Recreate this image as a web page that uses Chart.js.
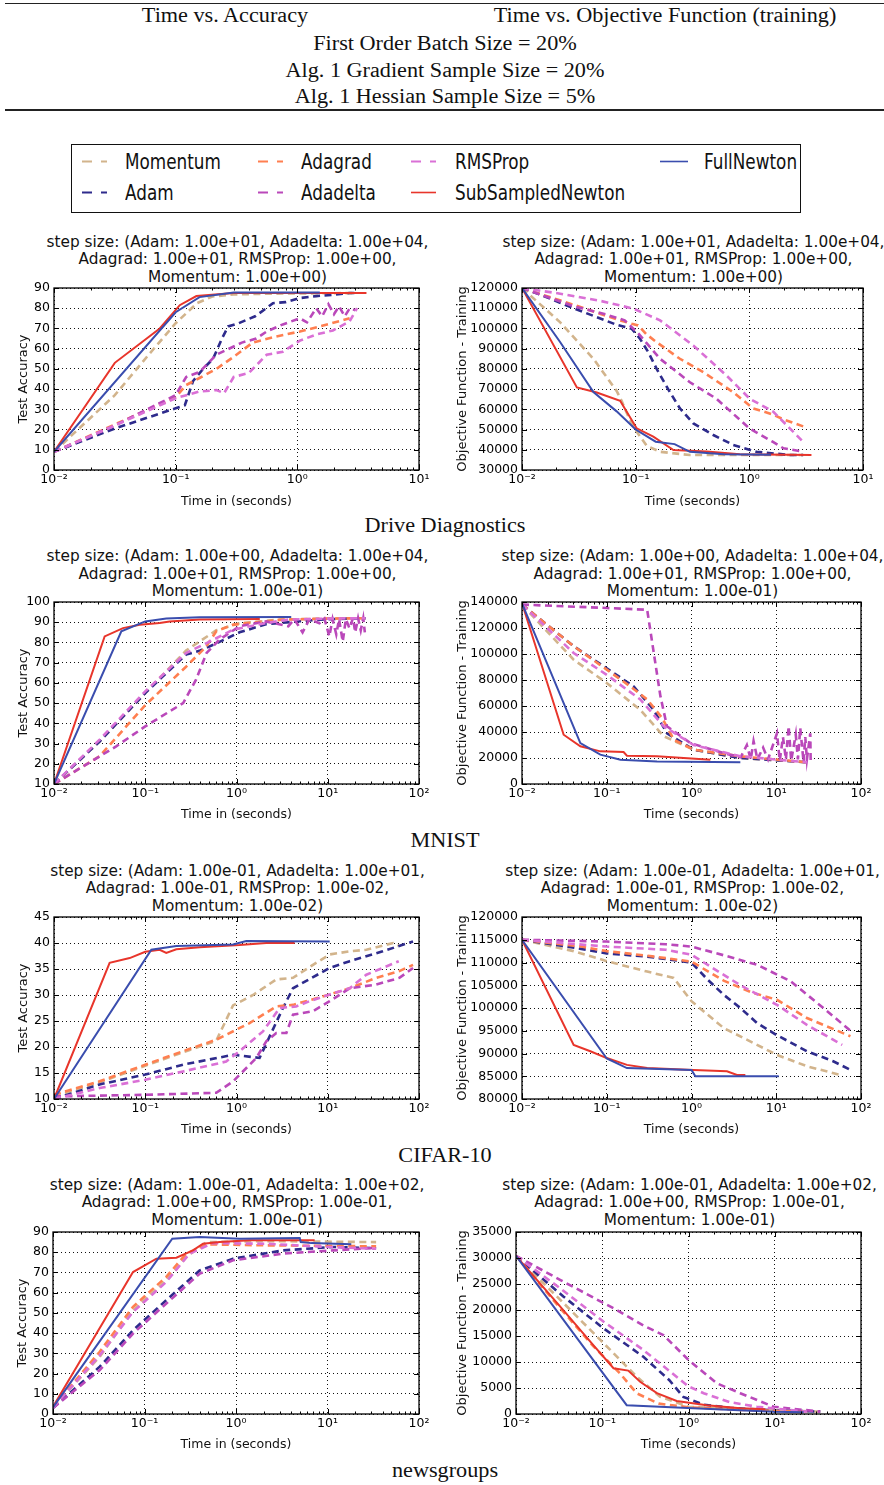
<!DOCTYPE html>
<html><head><meta charset="utf-8">
<script src="https://cdn.jsdelivr.net/npm/chart.js@4.4.1/dist/chart.umd.min.js"></script>
<style>
html,body{margin:0;padding:0;background:#fff;}
body{width:884px;height:1485px;position:relative;overflow:hidden;}
.abs{position:absolute;}
.serif{font-family:'Liberation Serif','Times New Roman',serif;font-size:20px;line-height:20px;color:#111;white-space:nowrap;text-align:center;width:600px;transform:scaleX(1.11);transform-origin:center;}
.rule{position:absolute;left:5px;width:879px;height:1.4px;background:#222;}
.leg{position:absolute;font-family:'DejaVu Sans',sans-serif;font-size:22px;line-height:22px;color:#111;white-space:nowrap;transform:scaleX(0.765);transform-origin:left center;}
.ptitle{position:absolute;width:500px;text-align:center;font-family:'DejaVu Sans',sans-serif;font-size:15.3px;line-height:17.5px;color:#111;white-space:nowrap;}
</style></head>
<body>
<div class="rule" style="top:2.6px"></div>
<div class="rule" style="top:109.4px"></div>
<div class="abs serif" style="left:-75px;top:4.9px">Time vs. Accuracy</div>
<div class="abs serif" style="left:365px;top:4.9px">Time vs. Objective Function (training)</div>
<div class="abs serif" style="left:145px;top:32.9px">First Order Batch Size = 20%</div>
<div class="abs serif" style="left:145px;top:59.9px">Alg. 1 Gradient Sample Size = 20%</div>
<div class="abs serif" style="left:145px;top:85.9px">Alg. 1 Hessian Sample Size = 5%</div>

<div class="abs" style="left:71px;top:144px;width:730px;height:69px;border:1.5px solid #111;box-sizing:border-box;"></div>
<svg class="abs" style="left:0;top:0" width="884" height="230">
<line x1="82" y1="161.5" x2="107" y2="161.5" stroke="#D2B48C" stroke-width="2.2" stroke-dasharray="10 9"/>
<line x1="82" y1="192.5" x2="107" y2="192.5" stroke="#2E2B8C" stroke-width="2.2" stroke-dasharray="10 9"/>
<line x1="258" y1="161.5" x2="283" y2="161.5" stroke="#FF7F50" stroke-width="2.2" stroke-dasharray="10 9"/>
<line x1="258" y1="192.5" x2="283" y2="192.5" stroke="#BA48BA" stroke-width="2.2" stroke-dasharray="10 9"/>
<line x1="411" y1="161.5" x2="436" y2="161.5" stroke="#DA70D6" stroke-width="2.2" stroke-dasharray="10 9"/>
<line x1="411" y1="192.5" x2="436" y2="192.5" stroke="#E8352B" stroke-width="1.6"/>
<line x1="660" y1="161.5" x2="688" y2="161.5" stroke="#3A4DAE" stroke-width="1.6"/>
</svg>
<div class="leg" style="left:125px;top:150.7px">Momentum</div>
<div class="leg" style="left:125px;top:182.1px">Adam</div>
<div class="leg" style="left:300.5px;top:150.7px">Adagrad</div>
<div class="leg" style="left:300.5px;top:182.1px">Adadelta</div>
<div class="leg" style="left:455px;top:150.7px">RMSProp</div>
<div class="leg" style="left:455px;top:182.1px">SubSampledNewton</div>
<div class="leg" style="left:704px;top:150.7px">FullNewton</div>

<div class="abs serif" style="left:145px;top:514.9px">Drive Diagnostics</div>
<div class="abs serif" style="left:145px;top:829.9px">MNIST</div>
<div class="abs serif" style="left:145px;top:1144.9px">CIFAR-10</div>
<div class="abs serif" style="left:145px;top:1459.9px">newsgroups</div>

<script>
// ---------- series ----------
const SERIES_NAMES = ['Momentum','Adam','Adagrad','Adadelta','RMSProp','SubSampledNewton','FullNewton'];
const SERIES_COLORS = ['#D2B48C','#2E2B8C','#FF7F50','#BA48BA','#DA70D6','#E8352B','#3A4DAE'];

// ---------- tick labels ----------
const X_TICKS_3DEC = [0.01, 0.1, 1, 10];
const X_TICKS_4DEC = [0.01, 0.1, 1, 10, 100];

// ---------- titles ----------
const TITLE_DRIVE = ['step size: (Adam: 1.00e+01, Adadelta: 1.00e+04,','Adagrad: 1.00e+01, RMSProp: 1.00e+00,','Momentum: 1.00e+00)'];
const TITLE_MNIST = ['step size: (Adam: 1.00e+00, Adadelta: 1.00e+04,','Adagrad: 1.00e+01, RMSProp: 1.00e+00,','Momentum: 1.00e-01)'];
const TITLE_CIFAR = ['step size: (Adam: 1.00e-01, Adadelta: 1.00e+01,','Adagrad: 1.00e-01, RMSProp: 1.00e-02,','Momentum: 1.00e-02)'];
const TITLE_NEWS  = ['step size: (Adam: 1.00e-01, Adadelta: 1.00e+02,','Adagrad: 1.00e+00, RMSProp: 1.00e-01,','Momentum: 1.00e-01)'];

// ---------- Drive Diagnostics: accuracy ----------
const DRIVE_ACC_MOMENTUM = [[0.01,9],[0.0316,37],[0.06,57],[0.1,72.6],[0.15,82.5],[0.2,85.8],[0.3,86.8],[0.6,87.2],[1,87.3],[3,87.5]];
const DRIVE_ACC_ADAM = [[0.01,9],[0.0316,20.5],[0.1,30.5],[0.119,32],[0.139,44],[0.168,50],[0.203,55],[0.24,65],[0.27,71],[0.33,72.6],[0.45,76],[0.556,80],[0.63,82.5],[0.8,83],[1.05,85],[1.43,86],[1.96,86.6],[2.69,87.5],[3,87.5]];
const DRIVE_ACC_ADAGRAD = [[0.01,9],[0.1,36],[0.122,42],[0.157,45.5],[0.216,50],[0.3,56],[0.43,63],[0.67,66],[1.05,68.5],[1.53,71],[2.69,75]];
const DRIVE_ACC_ADADELTA = [[0.01,9],[0.0316,22],[0.1,37],[0.122,46],[0.157,48.5],[0.216,57],[0.35,63],[0.46,65],[0.56,68.5],[0.76,72],[1.05,75],[1.2,73],[1.43,80],[1.6,76],[1.8,82],[2.0,77],[2.2,81],[2.45,76],[2.7,80],[3.0,79]];
const DRIVE_ACC_RMSPROP = [[0.01,9],[0.0316,22],[0.1,35.5],[0.157,38.8],[0.216,39.5],[0.25,38],[0.3,46],[0.4,48],[0.56,57],[0.76,58.5],[1.05,64],[1.43,67],[1.96,69],[2.69,73.5],[3.1,80]];
const DRIVE_ACC_SSN = [[0.01,9],[0.0316,53],[0.074,70],[0.108,81.5],[0.148,86],[0.3,87.5],[1,87.5],[3.7,87.5]];
const DRIVE_ACC_FULL = [[0.01,9],[0.1,78],[0.157,85.5],[0.3,87.8],[1,87.8],[1.53,87.8]];

// ---------- Drive Diagnostics: objective ----------
const DRIVE_OBJ_MOMENTUM = [[0.01,120000],[0.0217,103000],[0.0425,85000],[0.0682,69000],[0.0755,64000],[0.09,54000],[0.102,49000],[0.125,42000],[0.164,39000],[0.3,37400],[3,37400]];
const DRIVE_OBJ_ADAM = [[0.01,120000],[0.0145,116700],[0.0284,110000],[0.0682,101800],[0.0925,99800],[0.109,95000],[0.129,88300],[0.153,80000],[0.2,68500],[0.245,60500],[0.322,53000],[0.482,47300],[0.722,42400],[1.156,39000],[2.27,37400],[2.97,37400]];
const DRIVE_OBJ_ADAGRAD = [[0.01,120000],[0.0284,111700],[0.0682,104500],[0.0925,102300],[0.105,101500],[0.125,97000],[0.153,93200],[0.245,85000],[0.394,78400],[0.72,68500],[1.08,60500],[1.6,57500],[2.0,55000],[3.0,51500]];
const DRIVE_OBJ_ADADELTA = [[0.01,120000],[0.0284,111000],[0.052,107300],[0.08,104000],[0.106,97400],[0.164,85000],[0.3,73400],[0.515,65200],[1.0,50600],[1.6,44000],[2.0,40700],[2.75,39400]];
const DRIVE_OBJ_RMSPROP = [[0.01,120000],[0.0217,117200],[0.05,113500],[0.0955,109800],[0.164,104000],[0.321,91600],[0.63,76700],[1.01,65200],[1.62,58900],[2.27,50600],[2.97,44000]];
const DRIVE_OBJ_SSN = [[0.01,120000],[0.0304,70800],[0.0455,68300],[0.073,64200],[0.102,50600],[0.143,46500],[0.215,39900],[0.421,39100],[0.826,37800],[3.52,37400]];
const DRIVE_OBJ_FULL = [[0.01,120000],[0.0217,93200],[0.0425,68500],[0.068,59000],[0.1,50000],[0.15,44000],[0.22,42800],[0.3,39000],[0.6,37800],[1.55,37500]];

// ---------- MNIST: accuracy ----------
const MNIST_ACC_MOMENTUM = [[0.01,10],[0.0316,31],[0.1,55],[0.28,76],[0.6,86],[1.08,89.5],[3,91.3],[10,91.8],[26,92]];
const MNIST_ACC_ADAM = [[0.01,10],[0.0316,31],[0.1,55],[0.28,74],[0.4,76],[0.6,79.5],[1.08,85],[2.1,89],[5,90.5],[10,91.5],[26,92]];
const MNIST_ACC_ADAGRAD = [[0.01,10],[0.0316,23.7],[0.1,49],[0.28,68],[0.467,78],[0.6,85.5],[0.92,88.8],[3.2,91.3],[10,91.8],[26,92]];
const MNIST_ACC_ADADELTA = [[0.01,10],[0.048,28.6],[0.1,38.5],[0.26,50],[0.36,61.6],[0.47,74.8],[0.65,81.4],[1.08,88],[2.1,90.4],[3.7,88],[4.3,91.5],[5.3,85],[6.3,91.5],[8.1,89.5],[9.2,91.8],[10.4,83],[11.3,91.5],[12.4,84],[13.3,91.5],[14.6,80.5],[15.8,91.5],[17.3,87],[18.9,92],[20,85],[21.5,92],[23,86],[24.5,92],[25.5,85]];
const MNIST_ACC_RMSPROP = [[0.01,10],[0.0316,31.9],[0.1,55.8],[0.28,74.8],[0.47,79.7],[0.92,86.3],[2.1,89.6],[3.7,91.3],[10,91.8],[26,92]];
const MNIST_ACC_SSN = [[0.01,10],[0.0359,83],[0.057,87.1],[0.0869,88.8],[0.144,89.6],[0.185,90.4],[0.395,91.3],[1.8,91.6]];
const MNIST_ACC_FULL = [[0.01,10],[0.0547,85.5],[0.1,90.4],[0.17,91.8],[0.395,92.4],[3.98,92.6]];

// ---------- MNIST: objective ----------
const MNIST_OBJ_MOMENTUM = [[0.01,138000],[0.0407,95600],[0.1,77700],[0.249,57000],[0.47,36700],[1.06,26400],[3.77,20000],[23,16700]];
const MNIST_OBJ_ADAM = [[0.01,138000],[0.0407,106000],[0.1,89000],[0.208,75000],[0.358,57000],[0.514,39000],[1.06,26400],[3.77,20000],[23,16700]];
const MNIST_OBJ_ADAGRAD = [[0.01,138000],[0.0407,106000],[0.1,88000],[0.19,75000],[0.3,65000],[0.45,50800],[0.62,34000],[1.06,26400],[3.77,21300],[23,16700]];
const MNIST_OBJ_ADADELTA = [[0.01,138000],[0.1,135400],[0.3,134000],[0.43,67400],[0.514,44400],[0.97,31500],[2.4,23800],[3.8,20500],[4.5,30000],[5,19000],[5.4,33000],[6,19000],[7,28000],[8,19000],[10.2,39000],[11,18000],[12,36000],[13,19000],[14,44400],[15,18000],[17,38000],[18,19000],[19.2,43000],[21,17000],[22,36000],[23,19000],[25.2,39000],[25.5,17000]];
const MNIST_OBJ_RMSPROP = [[0.01,138000],[0.0407,100800],[0.1,84000],[0.249,65000],[0.47,44400],[1.06,30000],[3.77,21300],[23,16700]];
const MNIST_OBJ_SSN = [[0.01,139000],[0.031,37900],[0.0488,29000],[0.084,25100],[0.158,24600],[0.173,21800],[0.392,21300],[1.67,18700]];
const MNIST_OBJ_FULL = [[0.01,139000],[0.0488,31500],[0.084,22600],[0.145,18700],[0.392,17400],[3.77,16700]];

// ---------- CIFAR-10: accuracy ----------
const CIFAR_ACC_MOMENTUM = [[0.01,10.5],[0.0316,13.2],[0.1,16.4],[0.26,19],[0.6,21.2],[0.916,28],[1.52,30],[2.73,33],[4.16,33.3],[6.89,35.8],[10.5,37.8],[17.4,38.4],[26.5,38.7],[52,40],[60,39.5]];
const CIFAR_ACC_ADAM = [[0.01,10],[0.0316,12.8],[0.1,14.7],[0.26,16.6],[0.92,18.5],[1.79,17.9],[3.23,27.5],[4.16,31.3],[10.5,35.2],[17.4,36.5],[40,38.4],[86,40.3]];
const CIFAR_ACC_ADAGRAD = [[0.01,10.8],[0.0316,13.4],[0.1,16.6],[0.26,19.2],[0.6,21.4],[1.39,24.6],[2.73,27.8],[4.16,28.1],[10.5,30.1],[17.4,31.3],[34,33.3],[61,34.6],[86,35.8]];
const CIFAR_ACC_ADADELTA = [[0.01,10.5],[0.1,10.8],[0.6,11.2],[0.92,13.4],[1.65,17.9],[2.12,21.1],[2.73,22.7],[3.52,22.7],[4.16,26.2],[6.89,26.9],[10.5,28.8],[17.4,31.3],[34,32],[61,33.3],[86,35.2]];
const CIFAR_ACC_RMSPROP = [[0.01,10],[0.0316,12.1],[0.1,13.7],[0.26,15.3],[0.77,17.2],[1.08,19.2],[1.95,23],[2.97,27.5],[4.5,27.8],[6.3,28.8],[10.5,30.1],[17.4,31.3],[26.5,33.9],[60,36.5]];
const CIFAR_ACC_SSN = [[0.01,10],[0.0407,36.2],[0.0675,37.1],[0.1,38.3],[0.144,38.7],[0.17,38.1],[0.219,38.8],[0.395,39.2],[1.08,39.6],[2.12,40],[4.34,40]];
const CIFAR_ACC_FULL = [[0.01,10],[0.1166,38.7],[0.219,39.4],[0.916,39.7],[1.28,40.4],[10.5,40.3]];

// ---------- CIFAR-10: objective ----------
const CIFAR_OBJ_MOMENTUM = [[0.01,115000],[0.0407,112500],[0.1,110300],[0.3,108000],[0.616,106600],[1.0,101500],[2.4,95600],[5.93,91900],[10.2,89700],[23,87200],[57,85300]];
const CIFAR_OBJ_ADAM = [[0.01,115000],[0.05,113000],[0.1,112000],[0.3,111300],[1.0,110000],[1.5,106500],[2.4,102900],[3.77,100000],[5.93,96700],[10,94100],[23,90500],[47,88300],[75,86400]];
const CIFAR_OBJ_ADAGRAD = [[0.01,115000],[0.05,113500],[0.1,112500],[0.3,111500],[1.0,110200],[2.4,106000],[5,103500],[10.2,101800],[23,97800],[75,93800]];
const CIFAR_OBJ_ADADELTA = [[0.01,115000],[0.1,114600],[0.5,114000],[1,113500],[2.5,111500],[5.93,109500],[14.7,105900],[36,100000],[75,95000]];
const CIFAR_OBJ_RMSPROP = [[0.01,115000],[0.1,113500],[0.5,112800],[1.0,111700],[3.77,105000],[10.2,100700],[23,96300],[60,91900]];
const CIFAR_OBJ_SSN = [[0.01,115000],[0.0407,91900],[0.064,90500],[0.1,89000],[0.173,87500],[0.3,86800],[1.06,86400],[2.62,86100],[3.44,85300],[4.32,85300]];
const CIFAR_OBJ_FULL = [[0.01,115000],[0.1,88900],[0.173,86800],[1.0,86400],[1.11,85000],[10.7,85000]];

// ---------- newsgroups: accuracy ----------
const NEWS_ACC_MOMENTUM = [[0.01,3.3],[0.0324,28.3],[0.0749,51.3],[0.173,66.1],[0.286,77.6],[0.474,85],[2.14,85.5],[34,85]];
const NEWS_ACC_ADAM = [[0.01,3],[0.0324,23.4],[0.0749,41.4],[0.173,56.3],[0.401,71],[0.927,76.8],[3.26,80.9],[11.5,82.6],[34,82]];
const NEWS_ACC_ADAGRAD = [[0.01,3.3],[0.0324,30.8],[0.0749,53],[0.173,67.8],[0.286,79.3],[0.474,83.9],[2.14,83.4],[34,82.9]];
const NEWS_ACC_ADADELTA = [[0.01,3],[0.0324,21.7],[0.0749,39.8],[0.173,54.6],[0.401,69.4],[0.927,76],[3.26,79.3],[11.5,80.9],[34,82.2]];
const NEWS_ACC_RMSPROP = [[0.01,3.3],[0.0324,29],[0.0749,50.5],[0.173,65.3],[0.31,79.3],[0.56,84.5],[2.14,84.2],[10,82.6],[34,81.7]];
const NEWS_ACC_SSN = [[0.01,3.6],[0.0749,70.2],[0.135,76.8],[0.223,77.3],[0.339,80.9],[0.436,84.2],[0.663,85],[1.41,85.9],[7.24,85.9]];
const NEWS_ACC_FULL = [[0.01,3.3],[0.201,86.7],[0.4,87.5],[1.1,86.7],[4.97,87],[5.1,85],[6.66,84.5],[18.2,83.9]];

// ---------- newsgroups: objective ----------
const NEWS_OBJ_MOMENTUM = [[0.01,30400],[0.0324,22000],[0.0943,14300],[0.25,7200],[0.47,3300],[1.0,1400],[9.7,700],[33.7,450]];
const NEWS_OBJ_ADAM = [[0.01,30400],[0.0354,22600],[0.103,16500],[0.3,11000],[0.6,6500],[0.87,3300],[1.5,1800],[3,1200],[9.7,700],[33.7,450]];
const NEWS_OBJ_ADAGRAD = [[0.01,30400],[0.0324,20400],[0.0792,13000],[0.161,7800],[0.25,4000],[0.45,2000],[1.0,1300],[4,800],[21.6,450]];
const NEWS_OBJ_ADADELTA = [[0.01,30400],[0.0324,25800],[0.147,20000],[0.3,17000],[0.51,15200],[1.0,10400],[2.13,5900],[3.98,4000],[9.7,1400],[33.7,450]];
const NEWS_OBJ_RMSPROP = [[0.01,30400],[0.0324,24200],[0.103,17800],[0.3,12300],[1.0,5300],[1.5,4000],[3,2300],[6.2,1400],[23.6,450]];
const NEWS_OBJ_SSN = [[0.01,30400],[0.0324,20700],[0.0792,13200],[0.135,8800],[0.2,8350],[0.275,6200],[0.43,4000],[0.73,2500],[1.63,1700],[3.98,1100],[7.76,900]];
const NEWS_OBJ_FULL = [[0.01,30400],[0.192,1700],[1.14,1100],[9.7,450],[21.6,350]];

// ---------- layout (positions only) ----------
const PANELS = [
  {L:54, R:419, T:288, B:470, t1:242, xl:501.3, yl:23.3, xt:X_TICKS_3DEC, ymin:0, ymax:90, ystep:10, xlab:'Time in (seconds)', ylab:'Test Accuracy', title:TITLE_DRIVE,
   series:[DRIVE_ACC_MOMENTUM,DRIVE_ACC_ADAM,DRIVE_ACC_ADAGRAD,DRIVE_ACC_ADADELTA,DRIVE_ACC_RMSPROP,DRIVE_ACC_SSN,DRIVE_ACC_FULL]},
  {L:522, R:863, T:288, B:470, t1:242, xl:501.3, yl:462.7, xt:X_TICKS_3DEC, ymin:30000, ymax:120000, ystep:10000, xlab:'Time (seconds)', ylab:'Objective Function - Training', title:TITLE_DRIVE,
   series:[DRIVE_OBJ_MOMENTUM,DRIVE_OBJ_ADAM,DRIVE_OBJ_ADAGRAD,DRIVE_OBJ_ADADELTA,DRIVE_OBJ_RMSPROP,DRIVE_OBJ_SSN,DRIVE_OBJ_FULL]},
  {L:54, R:419, T:602, B:784, t1:556.7, xl:815, yl:23.3, xt:X_TICKS_4DEC, ymin:10, ymax:100, ystep:10, xlab:'Time in (seconds)', ylab:'Test Accuracy', title:TITLE_MNIST,
   series:[MNIST_ACC_MOMENTUM,MNIST_ACC_ADAM,MNIST_ACC_ADAGRAD,MNIST_ACC_ADADELTA,MNIST_ACC_RMSPROP,MNIST_ACC_SSN,MNIST_ACC_FULL]},
  {L:522, R:861, T:602, B:784, t1:556.7, xl:815, yl:462.7, xt:X_TICKS_4DEC, ymin:0, ymax:140000, ystep:20000, xlab:'Time (seconds)', ylab:'Objective Function - Training', title:TITLE_MNIST,
   series:[MNIST_OBJ_MOMENTUM,MNIST_OBJ_ADAM,MNIST_OBJ_ADAGRAD,MNIST_OBJ_ADADELTA,MNIST_OBJ_RMSPROP,MNIST_OBJ_SSN,MNIST_OBJ_FULL]},
  {L:54, R:419, T:917, B:1099, t1:871, xl:1130, yl:23.3, xt:X_TICKS_4DEC, ymin:10, ymax:45, ystep:5, xlab:'Time in (seconds)', ylab:'Test Accuracy', title:TITLE_CIFAR,
   series:[CIFAR_ACC_MOMENTUM,CIFAR_ACC_ADAM,CIFAR_ACC_ADAGRAD,CIFAR_ACC_ADADELTA,CIFAR_ACC_RMSPROP,CIFAR_ACC_SSN,CIFAR_ACC_FULL]},
  {L:522, R:861, T:917, B:1099, t1:871, xl:1130, yl:462.7, xt:X_TICKS_4DEC, ymin:80000, ymax:120000, ystep:5000, xlab:'Time (seconds)', ylab:'Objective Function - Training', title:TITLE_CIFAR,
   series:[CIFAR_OBJ_MOMENTUM,CIFAR_OBJ_ADAM,CIFAR_OBJ_ADAGRAD,CIFAR_OBJ_ADADELTA,CIFAR_OBJ_RMSPROP,CIFAR_OBJ_SSN,CIFAR_OBJ_FULL]},
  {L:53, R:419, T:1232, B:1414, t1:1185, xl:1445, yl:23, xt:X_TICKS_4DEC, ymin:0, ymax:90, ystep:10, xlab:'Time in (seconds)', ylab:'Test Accuracy', title:TITLE_NEWS,
   series:[NEWS_ACC_MOMENTUM,NEWS_ACC_ADAM,NEWS_ACC_ADAGRAD,NEWS_ACC_ADADELTA,NEWS_ACC_RMSPROP,NEWS_ACC_SSN,NEWS_ACC_FULL]},
  {L:516, R:861, T:1232, B:1414, t1:1185, xl:1445, yl:462.7, xt:X_TICKS_4DEC, ymin:0, ymax:35000, ystep:5000, xlab:'Time (seconds)', ylab:'Objective Function - Training', title:TITLE_NEWS,
   series:[NEWS_OBJ_MOMENTUM,NEWS_OBJ_ADAM,NEWS_OBJ_ADAGRAD,NEWS_OBJ_ADADELTA,NEWS_OBJ_RMSPROP,NEWS_OBJ_SSN,NEWS_OBJ_FULL]}
];

Chart.defaults.font.family = "'DejaVu Sans', sans-serif";
Chart.defaults.color = '#111';

const SUP = {'-':'\u207B','0':'\u2070','1':'\u00B9','2':'\u00B2','3':'\u00B3'};
function decadeLabel(v){
  const e = Math.round(Math.log10(v));
  return '10' + String(e).split('').map(c => SUP[c]).join('');
}

const framePlugin = {
  id: 'frame',
  afterDatasetsDraw(chart){
    const {ctx, chartArea:a, scales:{x, y}} = chart;
    ctx.save();
    ctx.strokeStyle = '#000';
    ctx.lineWidth = 1;
    ctx.beginPath();
    const seg = (x1,y1,x2,y2) => { ctx.moveTo(x1,y1); ctx.lineTo(x2,y2); };
    x.ticks.forEach(t => { const p = Math.round(x.getPixelForValue(t.value)) + 0.5; seg(p,a.bottom,p,a.bottom-5); seg(p,a.top,p,a.top+5); });
    const lo = Math.round(Math.log10(x.min)), hi = Math.round(Math.log10(x.max));
    for (let e = lo; e < hi; e++) {
      for (let k = 2; k < 10; k++) {
        const p = Math.round(x.getPixelForValue(k * Math.pow(10, e))) + 0.5;
        seg(p,a.bottom,p,a.bottom-2.5); seg(p,a.top,p,a.top+2.5);
      }
    }
    y.ticks.forEach(t => { const p = Math.round(y.getPixelForValue(t.value)) + 0.5; seg(a.left,p,a.left+5,p); seg(a.right,p,a.right-5,p); });
    ctx.stroke();
    ctx.lineWidth = 1.3;
    ctx.strokeRect(a.left, a.top, a.right - a.left, a.bottom - a.top);
    ctx.restore();
  }
};

PANELS.forEach(P => {
  const cl = P.L < 440 ? 0 : 440;
  const cw = P.L < 440 ? 440 : 444;
  const padTop = 12;
  const ct = P.T - padTop;
  const ch = P.B - ct + 46;
  const xh = P.xl - P.B + 7.5;
  const padBottom = ch - (P.B - ct) - xh;
  const yw = P.L - cl;
  const padRight = cl + cw - P.R;
  const ylh = 13 * 1.2;

  // panel title (real text)
  const t = document.createElement('div');
  t.className = 'ptitle';
  t.style.left = ((P.L + P.R) / 2 + 1 - 250) + 'px';
  t.style.top = (P.t1 - 8.25) + 'px';
  t.innerHTML = P.title.join('<br>');
  document.body.appendChild(t);

  const c = document.createElement('canvas');
  c.width = cw; c.height = ch;
  c.style.cssText = `position:absolute;left:${cl}px;top:${ct}px;width:${cw}px;height:${ch}px;`;
  document.body.appendChild(c);

  const datasets = P.series.map((arr, i) => ({
    label: SERIES_NAMES[i],
    data: arr.map(([x, y]) => ({x, y})),
    borderColor: SERIES_COLORS[i],
    backgroundColor: SERIES_COLORS[i],
    borderWidth: i < 5 ? 2.6 : 2,
    borderDash: i < 5 ? [7, 4.5] : [],
    pointRadius: 0,
    fill: false,
    tension: 0,
    order: 6 - i
  }));

  new Chart(c, {
    type: 'line',
    data: {datasets},
    options: {
      responsive: false,
      animation: false,
      devicePixelRatio: 1,
      layout: {padding: {left: 0, right: padRight, top: padTop, bottom: padBottom}},
      plugins: {legend: {display: false}, tooltip: {enabled: false}, title: {display: false}},
      elements: {point: {radius: 0}, line: {tension: 0}},
      scales: {
        x: {
          type: 'logarithmic',
          min: P.xt[0], max: P.xt[P.xt.length - 1],
          afterBuildTicks: s => { s.ticks = P.xt.map(v => ({value: v})); },
          afterFit: s => { s.height = xh; },
          ticks: {callback: v => decadeLabel(v), font: {size: 12.5}, color: '#000', padding: 2, maxRotation: 0, autoSkip: false},
          grid: {color: '#111', lineWidth: 1, drawTicks: false},
          border: {display: false, dash: [1, 3]},
          title: {display: true, text: P.xlab, font: {size: 12.5}, color: '#111', padding: {top: 0, bottom: 0}}
        },
        y: {
          type: 'linear',
          min: P.ymin, max: P.ymax,
          afterFit: s => { s.width = yw; },
          ticks: {stepSize: P.ystep, callback: v => String(v), font: {size: 12.5}, color: '#000', padding: 4},
          grid: {color: '#111', lineWidth: 1, drawTicks: false},
          border: {display: false, dash: [1, 3]},
          title: {display: true, text: P.ylab, font: {size: 13}, color: '#111', padding: {top: P.yl - cl - ylh / 2, bottom: 0}}
        }
      }
    },
    plugins: [framePlugin]
  });
});
</script>
</body></html>
